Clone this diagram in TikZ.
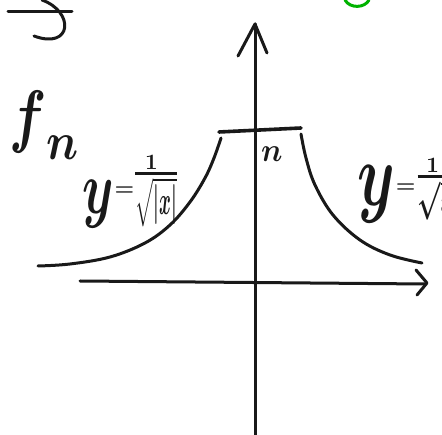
\documentclass[tikz,border=0pt]{standalone}
\usepackage{amsmath}
\usetikzlibrary{arrows.meta}
\begin{document}
\begin{tikzpicture}[x=1pt,y=-1pt,
  pen/.style={line width=3pt,line cap=round,line join=round,black!90},
  lbl/.style={inner sep=0pt,text=black!90,anchor=base west,font=\boldmath}]
\clip (0,0) rectangle (442,435);
\fill[white] (0,0) rectangle (442,435);
% axes
\coordinate (ybot) at (255,436);
\coordinate (ytop) at (255,24);
\coordinate (xl) at (80,281);
\coordinate (xr) at (425,284);
\draw[pen] (ybot) -- (ytop);
\draw[pen] (238,56) -- (ytop) -- (267,53);
\draw[pen] (xl) -- (xr);
\draw[pen] (416,270) -- (427,283) -- (417,295);
% cap
\coordinate (capl) at (219,132);
\coordinate (capr) at (301,128);
\draw[pen,line width=3.6pt] (capl) -- (capr);
% curves
\draw[pen] plot[smooth,tension=0.6] coordinates {(221,138) (214,158) (205,178) (190,202) (170,225) (145,243) (110,257) (70,264) (38,266)};
\draw[pen] plot[smooth,tension=0.6] coordinates {(301,134) (306,158) (315,185) (333,215) (360,240) (390,255) (422,263)};
% labels
\node[lbl] (fn) at (9,140) {\scalebox{5.5}[7]{$f$}\raisebox{-20pt}{\scalebox{4.5}[5.3]{$n$}}};
\node[lbl] (n) at (261,162) {\scalebox{3}[3.3]{$n$}};
\node[lbl] (yl) at (82,214) {\scalebox{5}[7.5]{$y$}\hspace{1pt}\raisebox{18.5pt}{\scalebox{2.2}{$=$}}\raisebox{38pt}{$\genfrac{}{}{2.6pt}{1}{\scalebox{2.2}{$1$}}{\scalebox{1.8}[4]{$\sqrt{|x|}$}}$}};
\node[lbl] (yr) at (357,206) {\scalebox{6}[9]{$y$}\hspace{1pt}\raisebox{13.5pt}{\scalebox{2.2}{$=$}}\hspace{1pt}\raisebox{27pt}{$\genfrac{}{}{2.6pt}{1}{\scalebox{2.2}{$1$}}{\scalebox{2.4}[3.8]{$\sqrt{x}$}}$}};
% cut-off fragments at the top edge
\draw[pen] (8,12) -- (72,12);
\draw[pen] (42,0) .. controls (75,12) and (72,50) .. (34,36);
\draw[line width=3pt,green!70!black,line cap=round] (345,0) .. controls (350,9) and (365,8) .. (369,0);
\end{tikzpicture}
\end{document}
